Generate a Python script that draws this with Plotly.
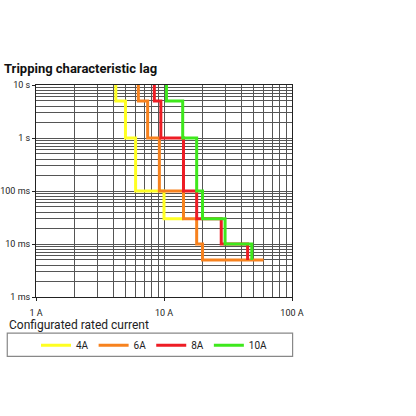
import plotly.graph_objects as go

# Step curves: current (A) vs tripping time (s)
names = ["4A", "6A", "8A", "10A"]
colors = ["#ffff22", "#f7821e", "#ee1c24", "#3ee81c"]

i_4a = [4.2, 4.2, 5.0, 5.0, 6.0, 6.0, 10.0, 10.0, 14.2]
t_4a = [10, 5, 5, 1, 1, 0.1, 0.1, 0.03, 0.03]

i_6a = [6.3, 6.3, 7.45, 7.45, 9.2, 9.2, 14.2, 14.2, 18.0, 18.0, 20.0, 20.0, 60.0]
t_6a = [10, 5, 5, 1, 1, 0.1, 0.1, 0.03, 0.03, 0.01, 0.01, 0.005, 0.005]

i_8a = [8.4, 8.4, 9.45, 9.45, 14.2, 14.2, 18.0, 18.0, 28.0, 28.0, 45.0, 45.0]
t_8a = [10, 5, 5, 1, 1, 0.1, 0.1, 0.03, 0.03, 0.01, 0.01, 0.005]

i_10a = [10.45, 10.45, 14.0, 14.0, 18.0, 18.0, 20.0, 20.0, 30.0, 30.0, 48.5, 48.5]
t_10a = [10, 5, 5, 1, 1, 0.1, 0.1, 0.03, 0.03, 0.01, 0.01, 0.005]

x_tickvals = [1, 10, 100]
x_ticktext = ["1 A", "10 A", "100 A"]
y_tickvals = [10, 1, 0.1, 0.01, 0.001]
y_ticktext = ["10 s", "1 s", "100 ms", "10 ms", "1 ms"]

FONT = "Roboto, Liberation Sans, sans-serif"

fig = go.Figure()
for name, col, xs, ys in zip(names, colors, [i_4a, i_6a, i_8a, i_10a], [t_4a, t_6a, t_8a, t_10a]):
    fig.add_trace(go.Scatter(x=xs, y=ys, mode="lines", name=name,
                             line=dict(color=col, width=3), hoverinfo="skip"))

W, H = 416, 416
L, R = 36, 291.7
T, B = 85, 296.7
pw, ph = R - L, B - T

def px(xs):  # screen x -> paper
    return (xs - L) / pw

def py(ys):  # screen y -> paper
    return (B - ys) / ph

grid = "#555555"
axis_common = dict(
    showgrid=True, gridcolor=grid, gridwidth=1,
    minor=dict(dtick="D1", showgrid=True, gridcolor=grid, gridwidth=1, ticks=""),
    showline=True, linecolor="#222222", linewidth=1, mirror=True,
    ticks="outside", ticklen=3, tickcolor="#222222",
    tickfont=dict(family=FONT, size=9, color="#222222"), zeroline=False,
    automargin=False,
)
fig.update_layout(
    width=W, height=H,
    margin=dict(l=L, r=W - R, t=T, b=H - B, pad=0),
    paper_bgcolor="white", plot_bgcolor="white",
    font=dict(family=FONT, size=10, color="#222222"),
    xaxis=dict(type="log", range=[0, 2], tickvals=x_tickvals, ticktext=x_ticktext,
               ticklabelstandoff=4, **axis_common),
    yaxis=dict(type="log", range=[-3, 1], tickvals=y_tickvals, ticktext=y_ticktext, **axis_common),
    showlegend=True,
    legend=dict(orientation="h", x=px(36), xanchor="left", y=py(345), yanchor="middle",
                bgcolor="rgba(0,0,0,0)", borderwidth=0,
                font=dict(family=FONT, size=10, color="#222222"), itemclick=False),
    shapes=[dict(type="rect", xref="paper", yref="paper",
                 x0=px(7.3), x1=px(292.3), y0=py(356), y1=py(332.7),
                 line=dict(color="#888888", width=1.2), fillcolor="rgba(0,0,0,0)")],
    annotations=[
        dict(text="<b>Tripping characteristic lag</b>", xref="paper", yref="paper",
             x=px(2), y=py(69), xanchor="left", yanchor="middle", showarrow=False,
             font=dict(family=FONT, size=13, color="#111111")),
        dict(text="Configurated rated current", xref="paper", yref="paper",
             x=px(7), y=py(325), xanchor="left", yanchor="middle", showarrow=False,
             font=dict(family=FONT, size=12, color="#222222")),
    ],
)

# remove the default 8px page margin so the 416x416 figure fills the window
fig.write_html("out.html", config={"displayModeBar": False},
               post_script="document.body.style.margin='0px';")
